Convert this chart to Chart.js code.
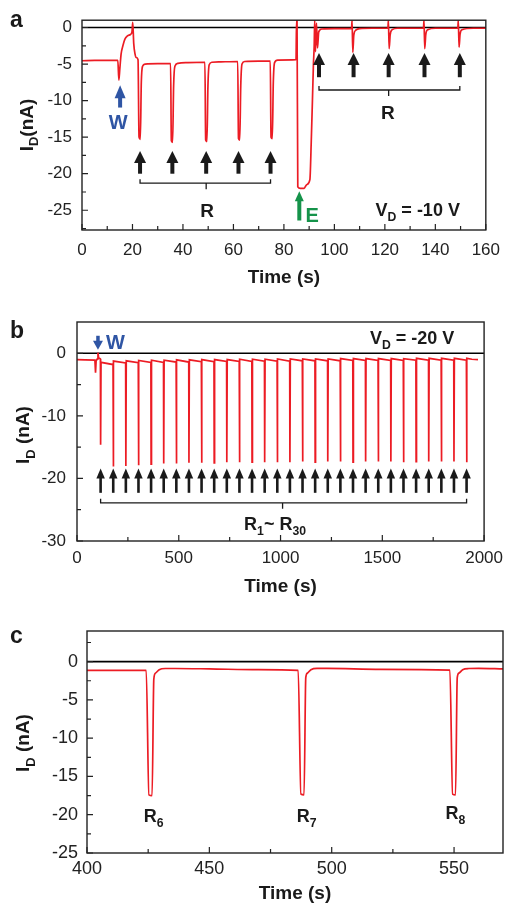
<!DOCTYPE html>
<html>
<head>
<meta charset="utf-8">
<script src="https://cdn.jsdelivr.net/npm/chart.js@4.4.0/dist/chart.umd.min.js"></script>
<style>
html, body { margin: 0; padding: 0; background: #fff; }
#wrap { position: relative; width: 510px; height: 903px; }
canvas { position: absolute; left: 0; }
</style>
</head>
<body>
<div id="wrap">
  <canvas id="chartA" width="510" height="300" style="top:0px"></canvas>
  <canvas id="chartB" width="510" height="300" style="top:300px"></canvas>
  <canvas id="chartC" width="510" height="303" style="top:600px"></canvas>
</div>
<script>
// ---- panel a : V_D = -10 V
const aTime = [
  0, 5, 10, 14.2, 14.6, 15.0, 15.5, 16.2, 17.0, 18.0, 19.2, 19.8, 20.1, 20.5, 21.0, 21.5, 22.2,
  22.6, 23.1, 23.5, 24.0, 25.0, 30.0,
  35.1, 35.4, 35.9, 36.3, 36.8, 38.0, 42.0,
  48.7, 49.0, 49.5, 49.9, 50.4, 51.5, 55.0,
  61.7, 62.0, 62.5, 62.9, 63.4, 64.5, 70.0,
  74.6, 74.9, 75.4, 75.8, 76.3, 77.5,
  84.8, 85.0, 85.2, 85.5, 86.5, 88.0, 89.0, 90.3, 90.8, 91.3, 91.7, 92.0,
  92.2, 92.5, 92.9, 93.3, 93.8, 95.0, 100.0,
  106.8, 107.0, 107.3, 107.7, 108.5, 110.0, 115.0,
  121.2, 121.4, 121.7, 122.1, 122.9, 125.0, 130.0,
  135.3, 135.5, 135.8, 136.2, 137.0, 140.0,
  148.9, 149.1, 149.4, 149.8, 150.6, 155.0, 160.0
];
const aCurrent = [
  -4.55, -4.5, -4.5, -4.5, -7.2, -5.6, -3.6, -2.5, -1.6, -1.15, -0.95, -0.6, 0.7, -2.2, -3.6, -4.1, -4.4,
  -15.0, -15.3, -7.5, -5.3, -5.0, -4.95,
  -4.95, -15.5, -15.7, -8.0, -5.3, -4.9, -4.8,
  -4.75, -15.4, -15.6, -8.0, -5.1, -4.75, -4.7,
  -4.65, -15.2, -15.4, -8.0, -5.0, -4.65, -4.6,
  -4.6, -15.0, -15.2, -7.5, -4.8, -4.45,
  -4.4, 1.0, 1.0, -21.8, -22.0, -22.0, -21.5, -20.8, -16.0, -10.0, -5.0, -2.5,
  1.0, -3.3, 0.6, -2.8, -0.6, -0.2, -0.15,
  -0.15, 1.0, -3.4, -1.0, -0.35, -0.15, -0.1,
  -0.1, 1.0, -2.9, -1.0, -0.3, -0.1, -0.1,
  -0.1, 1.0, -2.9, -1.0, -0.3, -0.1,
  -0.1, 1.0, -2.7, -0.9, -0.3, -0.1, -0.1
];
const aXTicks = [0, 20, 40, 60, 80, 100, 120, 140, 160];
const aYTicks = [0, -5, -10, -15, -20, -25];
const aArrowsR1 = [23.0, 35.8, 49.2, 62.0, 74.7];
const aArrowsR2 = [93.9, 107.6, 121.5, 135.7, 149.7];

// ---- panel b : V_D = -20 V
const bStartTime = [0, 40, 88, 91, 94, 100, 103, 106, 112];
const bStartCurrent = [-1.0, -1.05, -1.1, -3.1, -1.2, -0.9, 0.1, -0.7, -0.85];
const bPulseTime = [116, 178, 240, 302, 364, 426, 488, 550, 612, 674, 736, 798, 860, 922, 984,
  1046, 1108, 1170, 1232, 1294, 1356, 1418, 1480, 1542, 1604, 1666, 1728, 1790, 1852, 1914];
const bPulseDepth = [-14.6, -18.1, -18.0, -17.9, -17.7, -17.6, -17.6, -17.5, -17.5, -17.5,
  -17.4, -17.4, -17.4, -17.4, -17.4, -17.4, -17.3, -17.4, -17.3, -17.3,
  -17.4, -17.3, -17.3, -17.3, -17.4, -17.3, -17.3, -17.3, -17.3, -17.4];
const bLevelBefore = [-0.9, -1.8, -1.55, -1.5, -1.45, -1.45, -1.4, -1.4, -1.35, -1.35,
  -1.3, -1.3, -1.3, -1.25, -1.25, -1.25, -1.2, -1.2, -1.2, -1.2,
  -1.15, -1.15, -1.15, -1.15, -1.15, -1.1, -1.1, -1.1, -1.1, -1.1];
const bLevelAfter = [-1.45, -1.25, -1.2, -1.15, -1.1, -1.1, -1.05, -1.05, -1.0, -1.0,
  -1.0, -0.95, -0.95, -0.95, -0.9, -0.9, -0.9, -0.9, -0.9, -0.85,
  -0.85, -0.85, -0.85, -0.85, -0.85, -0.8, -0.8, -0.8, -0.8, -0.8];
const bTailTime = [1940, 1970];
const bTailCurrent = [-0.95, -1.0];
const bXTicks = [0, 500, 1000, 1500, 2000];
const bYTicks = [0, -10, -20, -30];

// ---- panel c : zoom R6-R8
const cTime = [400, 424.2, 425.3, 426.6, 427.3, 428.0, 429.5, 432, 436, 450, 470,
  486.3, 487.4, 488.7, 489.4, 490.1, 491.5, 494, 498, 520,
  548.3, 549.4, 550.6, 551.3, 552.0, 553.5, 556, 560, 570];
const cCurrent = [-1.15, -1.15, -17.4, -17.5, -2.3, -1.5, -1.05, -0.9, -0.9, -0.95, -1.05,
  -1.15, -17.3, -17.4, -2.1, -1.5, -1.05, -0.88, -0.88, -1.0,
  -1.1, -17.3, -17.4, -2.1, -1.5, -1.05, -0.9, -0.88, -0.95];
const cXTicks = [400, 450, 500, 550];
const cYTicks = [0, -5, -10, -15, -20, -25];
const cLabels = ['6', '7', '8'];

const FONT = '"Liberation Sans", Arial, Helvetica, sans-serif';
const RED = '#ec1c24';
const BLUE = '#2f55a4';
const GREEN = '#15934a';
const INK = '#1a1a1a';

function font(size, bold) { return (bold ? 'bold ' : '') + size + 'px ' + FONT; }

// texto con subindices: parts = [[texto, esSub]]
function rich(ctx, parts, x, y, size, color, align) {
  let w = 0;
  parts.forEach(p => { ctx.font = font(p[1] ? size * 0.68 : size, true); w += ctx.measureText(p[0]).width; });
  let cx = align === 'center' ? x - w / 2 : (align === 'right' ? x - w : x);
  ctx.fillStyle = color; ctx.textAlign = 'left'; ctx.textBaseline = 'alphabetic';
  parts.forEach(p => {
    ctx.font = font(p[1] ? size * 0.68 : size, true);
    ctx.fillText(p[0], cx, p[1] ? y + size * 0.28 : y);
    cx += ctx.measureText(p[0]).width;
  });
}

function arrow(ctx, x, yTail, yTip, color, shaft, headL, headW) {
  const dir = yTip < yTail ? -1 : 1;
  const yBase = yTip - dir * headL;
  ctx.strokeStyle = color; ctx.fillStyle = color; ctx.lineWidth = shaft;
  ctx.beginPath(); ctx.moveTo(x, yTail); ctx.lineTo(x, yBase + dir); ctx.stroke();
  ctx.beginPath(); ctx.moveTo(x, yTip); ctx.lineTo(x - headW / 2, yBase); ctx.lineTo(x + headW / 2, yBase);
  ctx.closePath(); ctx.fill();
}

function bracket(ctx, x1, x2, xm, y, up, down) {
  ctx.strokeStyle = INK; ctx.lineWidth = 1.3;
  ctx.beginPath();
  ctx.moveTo(x1, y - up); ctx.lineTo(x1, y); ctx.lineTo(x2, y); ctx.lineTo(x2, y - up);
  ctx.moveTo(xm, y); ctx.lineTo(xm, y + down);
  ctx.stroke();
}

function yTitle(ctx, cx, cy, parts, size) {
  ctx.save();
  ctx.translate(cx, cy);
  ctx.rotate(-Math.PI / 2);
  rich(ctx, parts, 0, size * 0.36, size, INK, 'center');
  ctx.restore();
}

// anotaciones de cada panel
const annotations = {
  chartA(ctx, X, Y) {
    ctx.font = font(23, true); ctx.fillStyle = INK; ctx.textAlign = 'left';
    ctx.fillText('a', 10, 27);
    yTitle(ctx, 26, 125, [['I'], ['D', true], ['(nA)']], 19);
    arrow(ctx, X(15.1), Y(-10.95), Y(-7.9), BLUE, 4, 13, 11);
    rich(ctx, [['W']], X(14.3), Y(-12.9) + 7, 20, BLUE, 'center');
    aArrowsR1.forEach(t => arrow(ctx, X(t), Y(-20.0), Y(-16.9), INK, 4, 12, 12));
    bracket(ctx, X(aArrowsR1[0]), X(aArrowsR1[4]), X(aArrowsR1[2]), Y(-21.3), 4, 6);
    rich(ctx, [['R']], X(49.6), Y(-24.9) + 7, 19, INK, 'center');
    aArrowsR2.forEach(t => arrow(ctx, X(t), Y(-6.8), Y(-3.5), INK, 4, 12, 12));
    bracket(ctx, X(aArrowsR2[0]), X(aArrowsR2[4]), X(aArrowsR2[2]), Y(-8.55), 4, 6);
    rich(ctx, [['R']], X(121.2), Y(-11.6) + 7, 19, INK, 'center');
    arrow(ctx, X(86.1), Y(-26.4), Y(-22.4), GREEN, 4, 10, 9);
    rich(ctx, [['E']], X(88.6), Y(-25.6) + 7, 20, GREEN, 'left');
    rich(ctx, [['V'], ['D', true], [' = -10 V']], X(116.3), Y(-24.9) + 6.5, 18, INK, 'left');
  },
  chartB(ctx, X, Y) {
    ctx.font = font(23, true); ctx.fillStyle = INK; ctx.textAlign = 'left';
    ctx.fillText('b', 10, 38);
    yTitle(ctx, 22.5, 135, [['I'], ['D', true], [' (nA)']], 19);
    arrow(ctx, X(103), Y(2.8), Y(0.55), BLUE, 3.5, 9, 10);
    rich(ctx, [['W']], X(189), Y(1.8) + 7, 20, BLUE, 'center');
    bPulseTime.forEach(t => arrow(ctx, X(t), Y(-22.3), Y(-18.4), INK, 2.6, 10, 8.5));
    bracket(ctx, X(bPulseTime[0]), X(bPulseTime[29]), X(1010), Y(-23.9), 4, 6);
    rich(ctx, [['R'], ['1', true], ['~ R'], ['30', true]], X(821), Y(-27.2) + 6.5, 18, INK, 'left');
    rich(ctx, [['V'], ['D', true], [' = -20 V']], X(1853.6), Y(2.55) + 6.5, 18, INK, 'right');
  },
  chartC(ctx, X, Y) {
    ctx.font = font(23, true); ctx.fillStyle = INK; ctx.textAlign = 'left';
    ctx.fillText('c', 10, 43);
    yTitle(ctx, 22.5, 143, [['I'], ['D', true], [' (nA)']], 19);
    const pos = [[423.2, -20.1], [485.7, -20.1], [546.5, -19.7]];
    cLabels.forEach((s, i) => rich(ctx, [['R'], [s, true]], X(pos[i][0]), Y(pos[i][1]) + 6.5, 18, INK, 'left'));
  }
};

// marco, ticks hacia dentro, linea cero y anotaciones
const decorPlugin = {
  id: 'decor',
  beforeDatasetsDraw(chart) {
    const { ctx, chartArea: ca, scales: { y } } = chart;
    const y0 = y.getPixelForValue(0);
    ctx.save();
    ctx.strokeStyle = '#000'; ctx.lineWidth = 1.6;
    ctx.beginPath(); ctx.moveTo(ca.left, y0); ctx.lineTo(ca.right, y0); ctx.stroke();
    ctx.restore();
  },
  afterDatasetsDraw(chart) {
    const { ctx, chartArea: ca, scales: { x, y } } = chart;
    ctx.save();
    ctx.strokeStyle = '#222'; ctx.lineWidth = 1.4;
    ctx.strokeRect(ca.left, ca.top, ca.right - ca.left, ca.bottom - ca.top);
    const minors = (scale) => {
      const v = scale.ticks.map(t => t.value);
      const out = [];
      for (let i = 0; i < v.length - 1; i++) out.push((v[i] + v[i + 1]) / 2);
      const step = v[1] - v[0];
      out.push(v[0] - step / 2, v[v.length - 1] + step / 2);
      return out.filter(m => m > scale.min && m < scale.max);
    };
    ctx.lineWidth = 1.2;
    ctx.beginPath();
    x.ticks.forEach(t => { const p = x.getPixelForValue(t.value); ctx.moveTo(p, ca.bottom); ctx.lineTo(p, ca.bottom - 6); });
    minors(x).forEach(m => { const p = x.getPixelForValue(m); ctx.moveTo(p, ca.bottom); ctx.lineTo(p, ca.bottom - 4); });
    y.ticks.forEach(t => { const p = y.getPixelForValue(t.value); ctx.moveTo(ca.left, p); ctx.lineTo(ca.left + 6, p); });
    minors(y).forEach(m => { const p = y.getPixelForValue(m); ctx.moveTo(ca.left, p); ctx.lineTo(ca.left + 4, p); });
    ctx.stroke();
    annotations[chart.canvas.id](ctx, v => x.getPixelForValue(v), v => y.getPixelForValue(v));
    ctx.restore();
  }
};

function makeChart(id, o) {
  return new Chart(document.getElementById(id), {
    type: 'line',
    data: {
      datasets: [{
        data: o.points,
        borderColor: RED,
        borderWidth: 1.7,
        pointRadius: 0,
        fill: false,
        tension: o.smooth ? 0.4 : 0,
        cubicInterpolationMode: o.smooth ? 'monotone' : 'default'
      }]
    },
    options: {
      responsive: false,
      animation: false,
      devicePixelRatio: 1,
      layout: { padding: o.padding },
      plugins: { legend: { display: false }, tooltip: { enabled: false } },
      scales: {
        x: {
          type: 'linear', min: o.xMin, max: o.xMax,
          afterFit: s => { s.height = o.xHeight; },
          afterBuildTicks: s => { s.ticks = o.xTicks.map(v => ({ value: v })); },
          grid: { display: false, drawTicks: false },
          border: { display: false },
          ticks: { font: { family: FONT, size: o.tickSize }, color: '#222', padding: o.xPad, maxRotation: 0, autoSkip: false, callback: v => String(v) },
          title: { display: true, text: 'Time (s)', color: INK, font: { family: FONT, size: 19, weight: 'bold', lineHeight: 1 }, padding: { top: 0, bottom: o.titlePad } }
        },
        y: {
          type: 'linear', min: o.yMin, max: o.yMax,
          afterFit: s => { s.width = o.yWidth; },
          afterBuildTicks: s => { s.ticks = o.yTicks.map(v => ({ value: v })); },
          grid: { display: false, drawTicks: false },
          border: { display: false },
          ticks: { font: { family: FONT, size: o.tickSize }, color: '#222', padding: o.yPad, callback: v => String(v) }
        }
      }
    },
    plugins: [decorPlugin]
  });
}

// panel a
makeChart('chartA', {
  points: aTime.map((t, i) => ({ x: t, y: aCurrent[i] })),
  smooth: true,
  xMin: 0, xMax: 160, yMin: -27.7, yMax: 1.0,
  xTicks: aXTicks, yTicks: aYTicks,
  padding: { top: 13, right: 18, left: 0, bottom: 0 },
  xHeight: 70, yWidth: 82, tickSize: 17, xPad: 10, yPad: 10, titlePad: 13
});

// panel b
const bPoints = bStartTime.map((t, i) => ({ x: t, y: bStartCurrent[i] }));
bPulseTime.forEach((t, k) => {
  bPoints.push({ x: t - 1, y: bLevelBefore[k] });
  bPoints.push({ x: t, y: bPulseDepth[k] });
  bPoints.push({ x: t + 2, y: bLevelAfter[k] });
});
bTailTime.forEach((t, i) => bPoints.push({ x: t, y: bTailCurrent[i] }));
makeChart('chartB', {
  points: bPoints,
  smooth: false,
  xMin: 0, xMax: 2000, yMin: -30, yMax: 5,
  xTicks: bXTicks, yTicks: bYTicks,
  padding: { top: 22, right: 19, left: 0, bottom: 0 },
  xHeight: 59, yWidth: 77, tickSize: 17, xPad: 7, yPad: 11, titlePad: 4
});

// panel c
makeChart('chartC', {
  points: cTime.map((t, i) => ({ x: t, y: cCurrent[i] })),
  smooth: true,
  xMin: 400, xMax: 570, yMin: -25, yMax: 4,
  xTicks: cXTicks, yTicks: cYTicks,
  padding: { top: 31, right: 7, left: 0, bottom: 0 },
  xHeight: 50, yWidth: 87, tickSize: 18, xPad: 5, yPad: 9, titlePad: 0
});
</script>
</body>
</html>
